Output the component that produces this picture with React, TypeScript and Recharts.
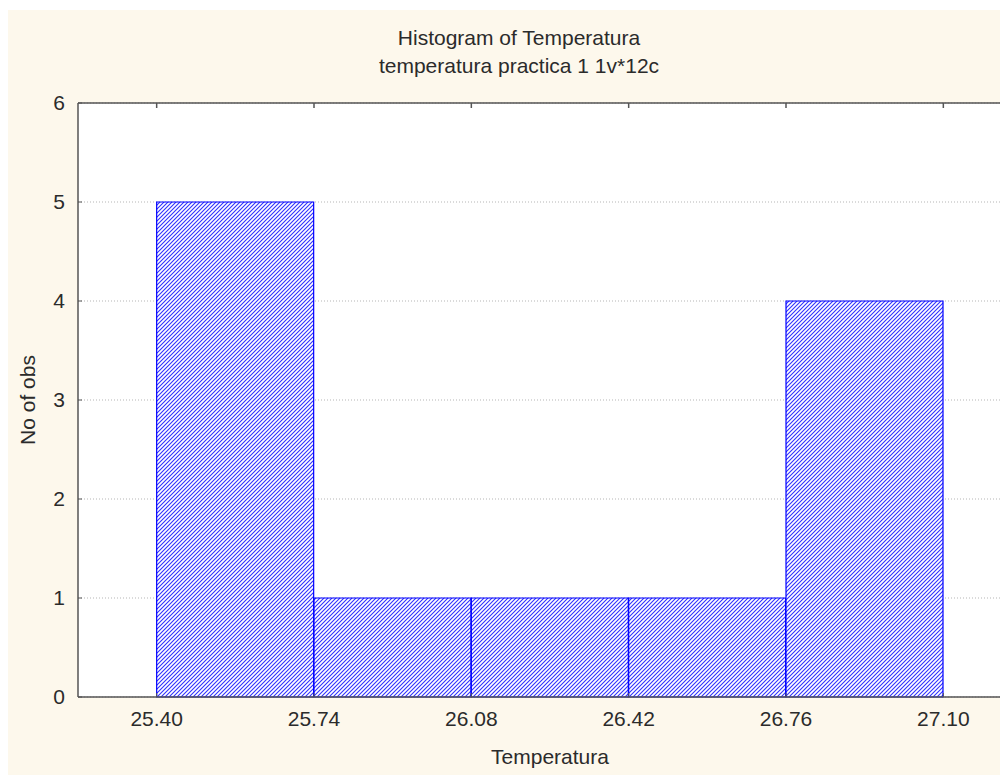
import { BarChart, Bar, XAxis, YAxis, CartesianGrid } from "recharts";

const binEdges = [25.4, 25.74, 26.08, 26.42, 26.76, 27.1];
const binNames = ["25.40-25.74", "25.74-26.08", "26.08-26.42", "26.42-26.76", "26.76-27.10"];
const counts = [5, 1, 1, 1, 4];
const yTicks = [0, 1, 2, 3, 4, 5, 6];

const title = "Histogram of Temperatura";
const subtitle = "temperatura practica 1 1v*12c";
const xLabel = "Temperatura";
const yLabel = "No of obs";

const data = binNames.map((name, i) => ({
  name,
  count: counts[i],
  mid: (binEdges[i] + binEdges[i + 1]) / 2,
}));
const binWidth = binEdges[1] - binEdges[0];
const tempDomain = [binEdges[0] - binWidth / 2, binEdges[binEdges.length - 1] + binWidth / 2];

const W = 1040;
const H = 765;
const M = { top: 88, right: 26, left: 10, bottom: 48 };
const Y_W = 60;
const plotW = W - M.left - M.right - Y_W;
const pad = plotW / (binNames.length + 1) / 2;

const font = '"Liberation Sans", Arial, sans-serif';
const ink = "#2b2b2b";
const frame = "#555";
const tickStyle = { fontSize: 21, fill: ink, fontFamily: font };

export default function App() {
  return (
    <div
      style={{
        position: "relative",
        width: 1000,
        height: H,
        marginTop: 2,
        overflow: "hidden",
        background: "#fdf8ec",
        fontFamily: font,
        color: ink,
      }}
    >
      <div style={{ position: "absolute", top: 14, left: 0, width: 1022, textAlign: "center", fontSize: 21, lineHeight: "28px" }}>
        {title}
      </div>
      <div style={{ position: "absolute", top: 42, left: 0, width: 1022, textAlign: "center", fontSize: 21, lineHeight: "28px" }}>
        {subtitle}
      </div>
      <div style={{ position: "absolute", top: 0, left: 0 }}>
        <BarChart width={W} height={H} data={data} margin={M} barCategoryGap={0}>
          <defs>
            <pattern id="hatch" width="4" height="4" patternUnits="userSpaceOnUse">
              <rect width="4" height="4" fill="#fff" />
              <path d="M-1,1 l2,-2 M0,4 l4,-4 M3,5 l2,-2" stroke="#3030ff" strokeWidth={1.1} />
            </pattern>
          </defs>
          <CartesianGrid
            xAxisId="temp"
            vertical={false}
            stroke="#b5b5b5"
            strokeDasharray="1 2"
            fill="#fff"
          />
          <XAxis xAxisId="bins" dataKey="name" type="category" hide height={0} padding={{ left: pad, right: pad }} />
          <XAxis
            xAxisId="temp"
            dataKey="mid"
            type="number"
            domain={tempDomain}
            ticks={binEdges}
            interval={0}
            allowDataOverflow
            height={30}
            tickSize={-4}
            tickMargin={18}
            tick={tickStyle}
            tickFormatter={(v: number) => v.toFixed(2)}
            axisLine={{ stroke: frame, strokeWidth: 1.5 }}
            tickLine={{ stroke: frame }}
            label={{ value: xLabel, position: "bottom", offset: 22, style: { fontSize: 21, fill: ink, fontFamily: font } }}
          />
          <XAxis
            xAxisId="top"
            dataKey="mid"
            orientation="top"
            type="number"
            domain={tempDomain}
            ticks={binEdges}
            interval={0}
            allowDataOverflow
            height={5}
            tickSize={-5}
            tickFormatter={() => ""}
            axisLine={{ stroke: frame, strokeWidth: 1.5 }}
            tickLine={{ stroke: frame, strokeWidth: 1.5 }}
          />
          <YAxis
            width={Y_W}
            domain={[0, 6]}
            ticks={yTicks}
            tickSize={-4}
            tickMargin={17}
            tick={tickStyle}
            axisLine={{ stroke: frame, strokeWidth: 1.5 }}
            tickLine={{ stroke: frame }}
            label={{ value: yLabel, angle: -90, position: "insideLeft", offset: 10, style: { fontSize: 21, fill: ink, fontFamily: font, textAnchor: "middle" } }}
          />
          <Bar
            xAxisId="bins"
            dataKey="count"
            fill="url(#hatch)"
            stroke="#0000ff"
            strokeWidth={1.2}
            isAnimationActive={false}
          />
        </BarChart>
      </div>
    </div>
  );
}
